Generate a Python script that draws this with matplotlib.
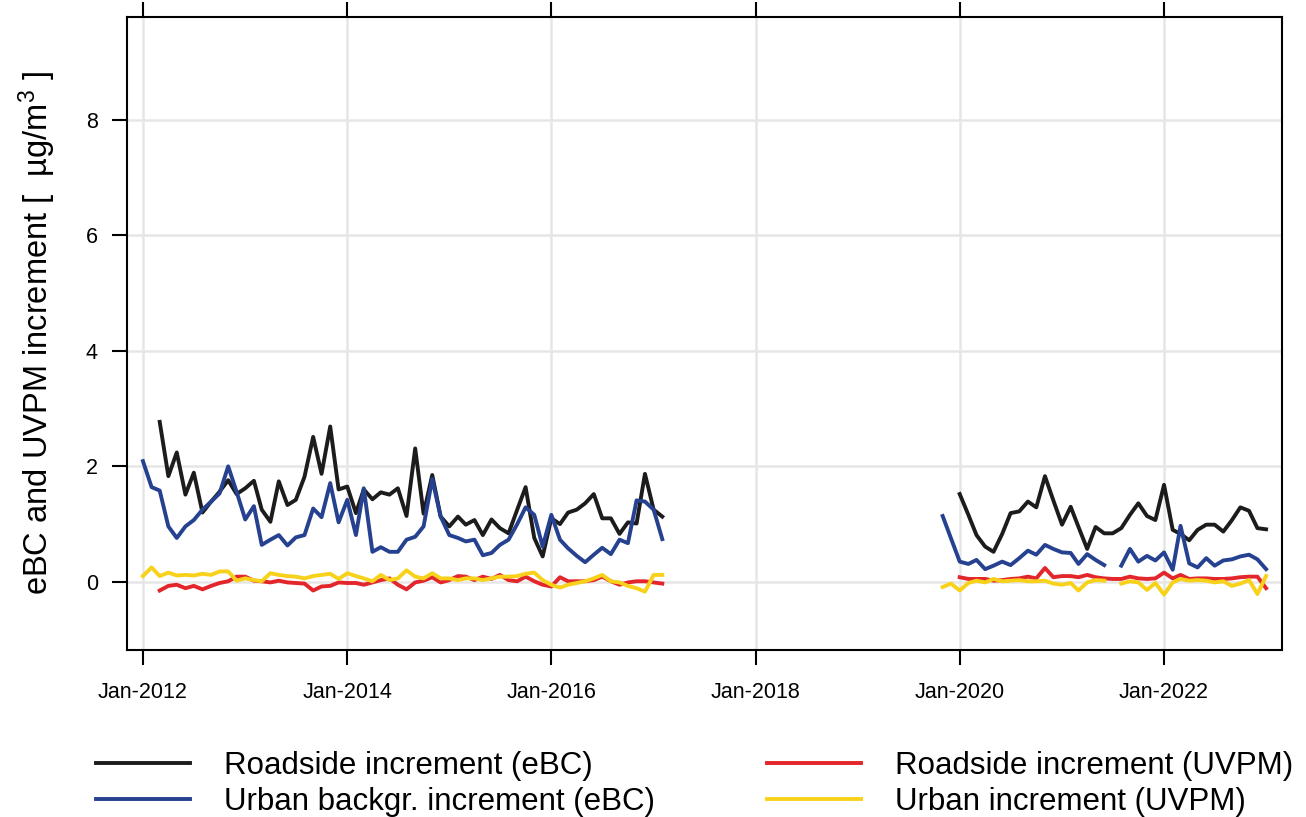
import numpy as np
import pandas as pd
import matplotlib
matplotlib.use("Agg")
import matplotlib.pyplot as plt
import matplotlib.dates as mdates

plt.rcParams['font.family'] = ['Liberation Sans', 'DejaVu Sans']
plt.rcParams['mathtext.fontset'] = 'custom'
plt.rcParams['mathtext.rm'] = 'Liberation Sans'
plt.rcParams['mathtext.it'] = 'Liberation Sans'

nan = np.nan

# monthly increments, first campaign: Jan-2012 .. Feb-2017
dates1 = pd.date_range('2012-01-01', '2017-02-01', freq='MS')
roadside_ebc_1 = [nan, nan, 2.77, 1.83, 2.24, 1.51, 1.89, 1.20, 1.39, 1.56, 1.76, 1.52,
                  1.62, 1.75, 1.25, 1.04, 1.74, 1.33, 1.42, 1.82, 2.51, 1.87, 2.69, 1.60,
                  1.65, 1.19, 1.60, 1.43, 1.55, 1.51, 1.62, 1.14, 2.31, 1.18, 1.85, 1.13,
                  0.96, 1.13, 0.99, 1.07, 0.81, 1.08, 0.93, 0.84, 1.25, 1.64, 0.76, 0.44,
                  1.10, 1.00, 1.20, 1.25, 1.36, 1.52, 1.10, 1.10, 0.83, 1.03, 1.01, 1.87,
                  1.25, 1.13]
urban_ebc_1 = [2.09, 1.64, 1.58, 0.96, 0.76, 0.96, 1.07, 1.25, 1.39, 1.53, 2.00, 1.56,
               1.08, 1.31, 0.64, 0.73, 0.81, 0.63, 0.77, 0.81, 1.27, 1.12, 1.71, 1.03,
               1.42, 0.81, 1.62, 0.52, 0.60, 0.52, 0.52, 0.73, 0.78, 0.96, 1.78, 1.13,
               0.81, 0.76, 0.70, 0.73, 0.46, 0.50, 0.64, 0.73, 1.00, 1.29, 1.16, 0.61,
               1.16, 0.73, 0.58, 0.45, 0.34, 0.47, 0.59, 0.48, 0.73, 0.67, 1.41, 1.39,
               1.25, 0.74]
roadside_uvpm_1 = [nan, nan, -0.15, -0.07, -0.05, -0.11, -0.07, -0.13, -0.07, -0.02, 0.01, 0.09,
                   0.09, 0.02, 0.01, -0.01, 0.02, -0.01, -0.02, -0.03, -0.15, -0.08, -0.07, -0.01,
                   -0.02, -0.02, -0.05, -0.01, 0.03, 0.06, -0.05, -0.13, -0.01, 0.02, 0.08, -0.01,
                   0.03, 0.10, 0.09, 0.03, 0.09, 0.05, 0.12, 0.03, 0.01, 0.09, 0.01, -0.05,
                   -0.08, 0.08, 0.01, 0.01, 0.01, 0.03, 0.09, 0.01, -0.05, -0.01, 0.01, 0.01,
                   -0.01, -0.03]
urban_uvpm_1 = [0.10, 0.25, 0.10, 0.16, 0.11, 0.12, 0.11, 0.14, 0.12, 0.18, 0.18, 0.02,
                0.06, 0.03, 0.01, 0.15, 0.12, 0.10, 0.09, 0.06, 0.10, 0.12, 0.14, 0.05,
                0.15, 0.10, 0.06, 0.01, 0.12, 0.03, 0.06, 0.20, 0.09, 0.06, 0.15, 0.06,
                0.06, 0.03, 0.06, 0.06, 0.03, 0.06, 0.09, 0.09, 0.10, 0.14, 0.16, 0.03,
                -0.05, -0.10, -0.05, -0.02, 0.01, 0.06, 0.12, 0.01, -0.01, -0.07, -0.11, -0.17,
                0.12, 0.12]

# second campaign: Nov-2019 .. Jan-2023
dates2 = pd.date_range('2019-11-01', '2023-01-01', freq='MS')
roadside_ebc_2 = [nan, nan, 1.52, 1.16, 0.81, 0.61, 0.52, 0.83, 1.19, 1.22, 1.39, 1.29,
                  1.83, 1.41, 0.99, 1.30, 0.95, 0.57, 0.95, 0.84, 0.84, 0.93, 1.16, 1.36,
                  1.14, 1.07, 1.68, 0.90, 0.83, 0.72, 0.90, 0.99, 0.99, 0.87, 1.07, 1.29,
                  1.23, 0.93, 0.91]
urban_ebc_2 = [1.14, 0.75, 0.35, 0.31, 0.38, 0.22, 0.28, 0.35, 0.29, 0.41, 0.54, 0.47,
               0.64, 0.57, 0.51, 0.50, 0.31, 0.48, 0.38, 0.29, nan, 0.28, 0.57, 0.35,
               0.45, 0.37, 0.51, 0.21, 0.97, 0.32, 0.25, 0.41, 0.28, 0.37, 0.39, 0.44,
               0.47, 0.39, 0.22]
roadside_uvpm_2 = [nan, nan, 0.08, 0.05, 0.05, 0.05, 0.02, 0.03, 0.05, 0.06, 0.09, 0.06,
                   0.24, 0.08, 0.10, 0.10, 0.08, 0.12, 0.08, 0.06, 0.05, 0.05, 0.09, 0.06,
                   0.05, 0.06, 0.16, 0.06, 0.12, 0.05, 0.06, 0.06, 0.05, 0.05, 0.06, 0.08,
                   0.09, 0.09, -0.11]
urban_uvpm_2 = [-0.09, -0.03, -0.15, -0.02, 0.02, -0.01, 0.05, 0.01, 0.02, 0.03, 0.01, 0.01,
                0.02, -0.03, -0.05, -0.02, -0.15, -0.01, 0.03, 0.02, nan, -0.03, 0.01, -0.01,
                -0.14, -0.02, -0.22, -0.01, 0.05, 0.02, 0.03, 0.02, -0.01, 0.01, -0.07, -0.03,
                0.03, -0.21, 0.10]

series = [
    ('Roadside increment (eBC)', '#1c1c1c', roadside_ebc_1, roadside_ebc_2),
    ('Urban backgr. increment (eBC)', '#25418f', urban_ebc_1, urban_ebc_2),
    ('Roadside increment (UVPM)', '#e3262b', roadside_uvpm_1, roadside_uvpm_2),
    ('Urban increment (UVPM)', '#f8d21a', urban_uvpm_1, urban_uvpm_2),
]

fig = plt.figure(figsize=(13.06, 8.17), dpi=100)
ax = fig.add_axes([127 / 1306, 1 - 650 / 817, (1282 - 127) / 1306, (650 - 17) / 817])

tick_dates = pd.date_range('2012-01-01', '2022-01-01', freq='24MS')
ax.set_xticks(tick_dates)
ax.xaxis.set_major_formatter(mdates.DateFormatter('%b-%Y'))
ax.set_yticks([0, 2, 4, 6, 8])
ax.grid(True, color='#e6e6e6', linewidth=1.8)
ax.set_axisbelow(True)

for label, color, v1, v2 in series:
    ax.plot(dates1, v1, color=color, linewidth=2.8, label=label)
    ax.plot(dates2, v2, color=color, linewidth=2.8)

ax.set_xlim(pd.Timestamp('2011-11-05'), pd.Timestamp('2023-02-27'))
ax.set_ylim(-1.18, 9.78)

for side in ax.spines.values():
    side.set_linewidth(1.5)
    side.set_color('black')

ax.tick_params(axis='x', which='major', top=True, direction='out', length=11,
               width=1.5, labelsize=15.5, pad=12)
ax.tick_params(axis='y', which='major', right=False, direction='out', length=11,
               width=1.5, labelsize=15.5, pad=10)

ax.set_ylabel(r'eBC and UVPM increment [  µg/m$^3$ ]', fontsize=23.5, labelpad=20)

fig.legend(loc='upper left', bbox_to_anchor=(96 / 1306, 1 - 751 / 817), ncol=2,
           frameon=False, fontsize=22.5, handlelength=3.0, handletextpad=1.1,
           columnspacing=3.58, labelspacing=0.18, borderpad=0, borderaxespad=0)

fig.savefig('out.png', dpi=100, facecolor='white')
